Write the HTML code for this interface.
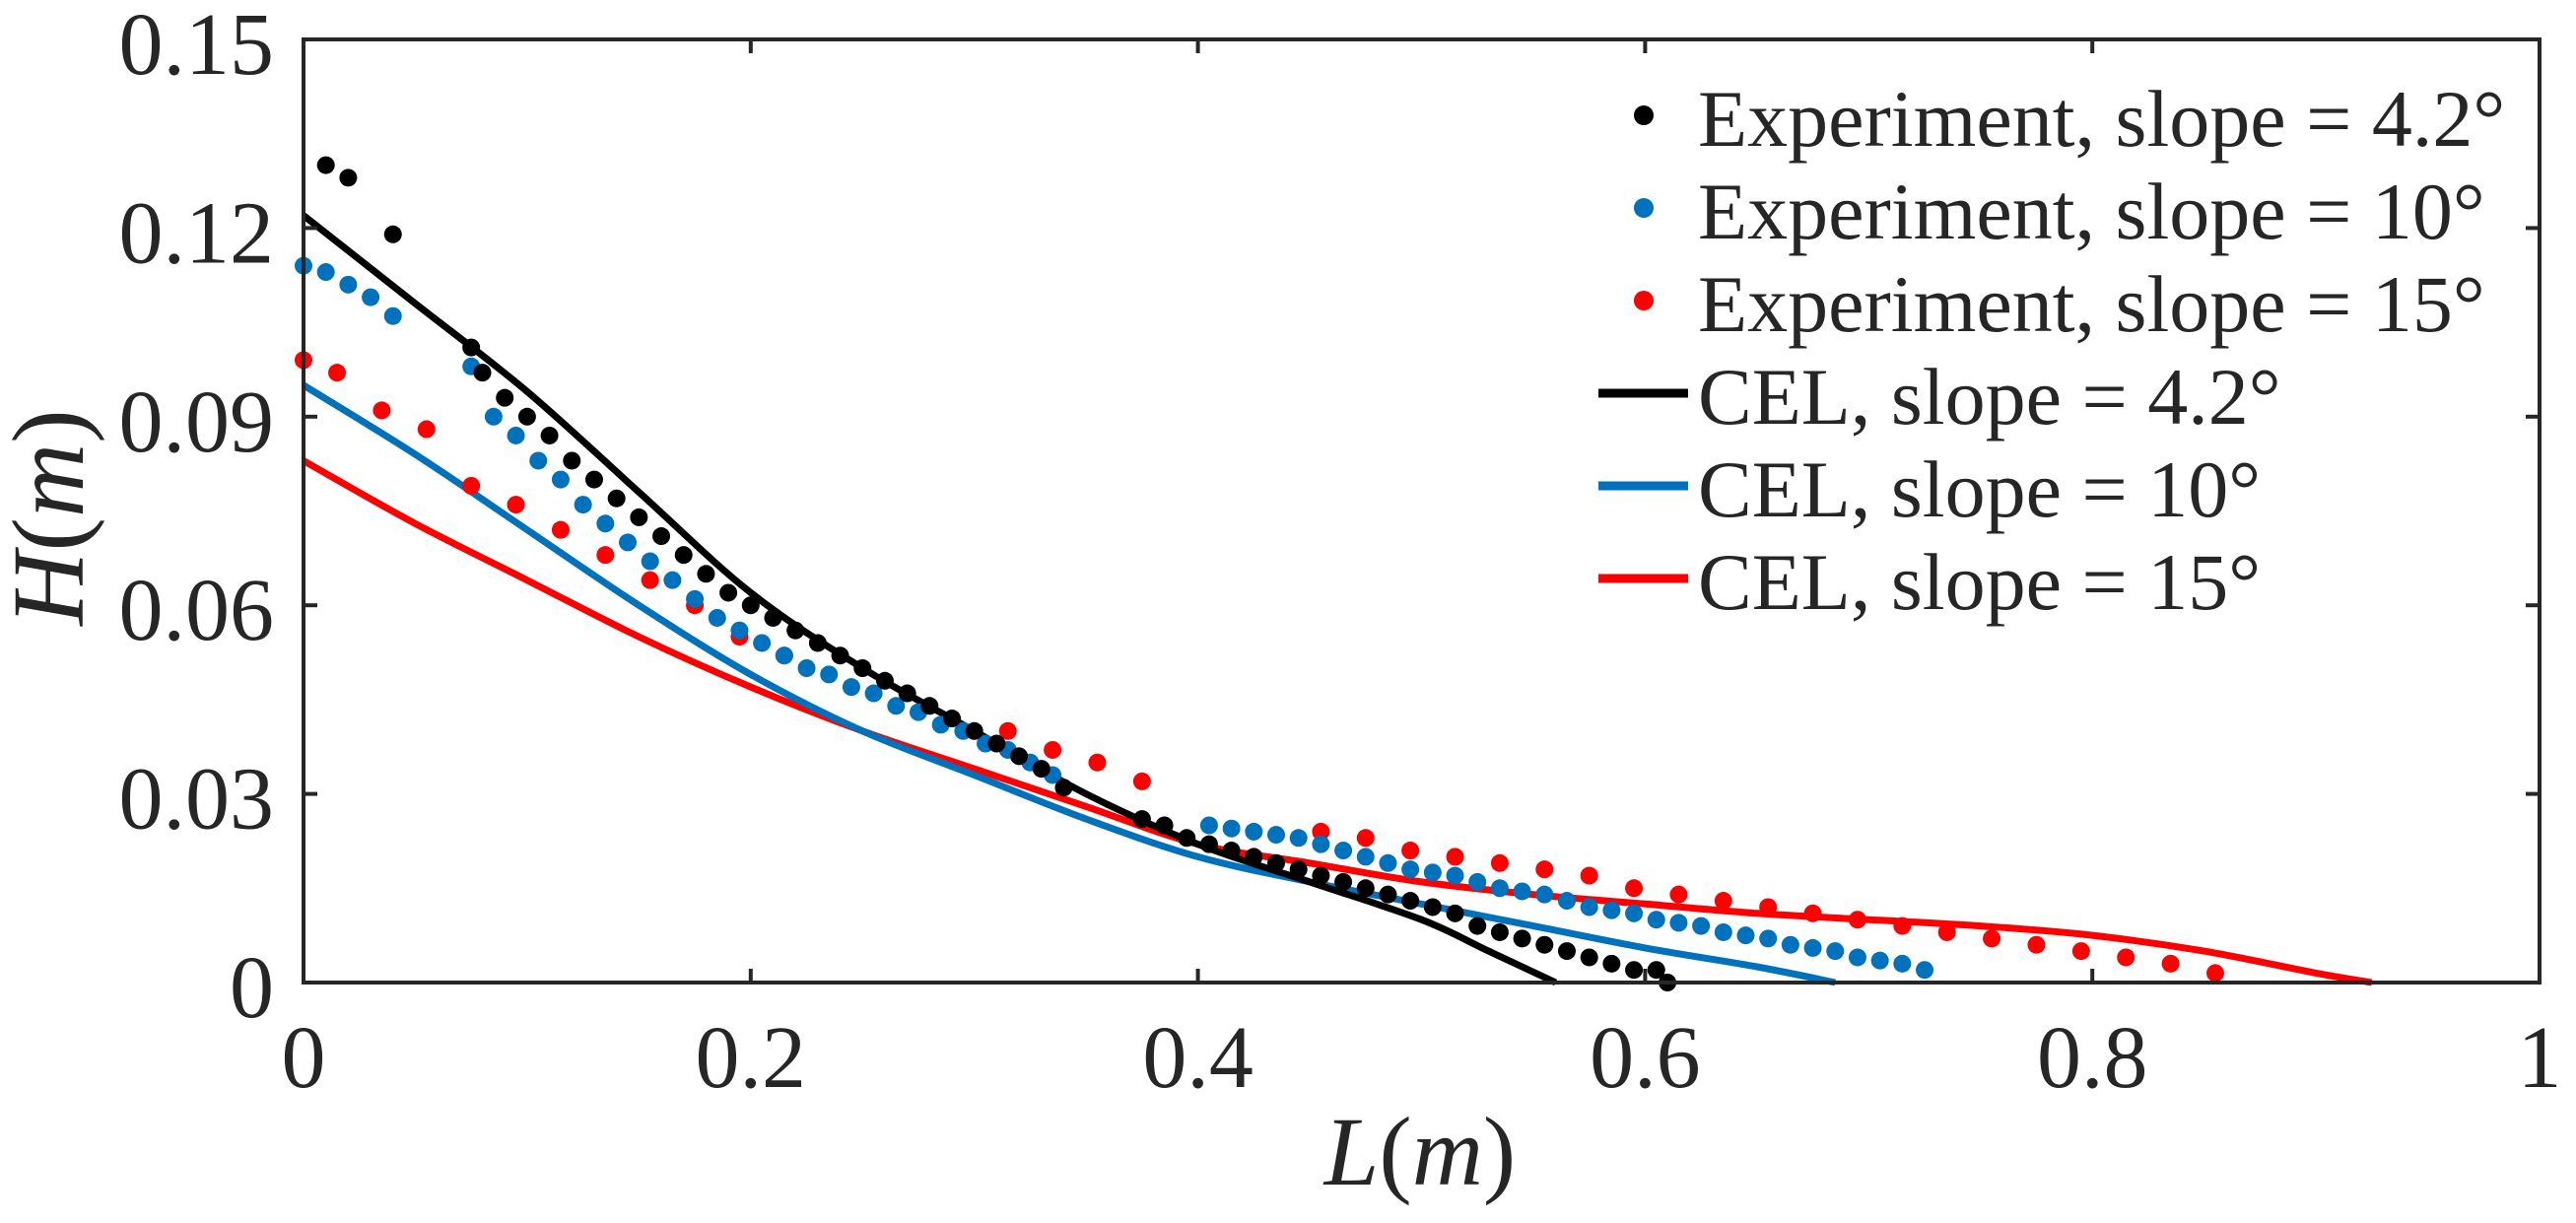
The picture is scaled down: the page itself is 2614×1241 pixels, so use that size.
<!DOCTYPE html>
<html><head><meta charset="utf-8"><style>
html,body{margin:0;padding:0;background:#fff;}
svg{display:block;}
text{font-family:"Liberation Serif",serif;fill:#262626;}
</style></head><body>
<svg id="chart" width="2614" height="1241" viewBox="0 0 2614 1241" xmlns="http://www.w3.org/2000/svg">
<g id="plot"></g>
<g id="axes"></g>
<g id="legend"></g>
</svg>
<script>
const xTicks = [0, 0.2, 0.4, 0.6, 0.8, 1];
const xTickLabels = ["0", "0.2", "0.4", "0.6", "0.8", "1"];
const yTicks = [0, 0.03, 0.06, 0.09, 0.12, 0.15];
const yTickLabels = ["0", "0.03", "0.06", "0.09", "0.12", "0.15"];

const exp42X = [0.01,0.02,0.04,0.075,0.08,0.09,0.10,0.11,0.12,0.13,0.14,0.15,0.16,0.17,0.18,0.19,0.20,0.21,0.22,0.23,0.24,0.25,0.26,0.27,0.28,0.29,0.30,0.31,0.32,0.33,0.34,0.375,0.385,0.395,0.405,0.415,0.425,0.435,0.445,0.455,0.465,0.475,0.485,0.495,0.505,0.515,0.525,0.535,0.545,0.555,0.565,0.575,0.585,0.595,0.605,0.61];
const exp42Y = [0.130,0.128,0.119,0.101,0.097,0.093,0.090,0.087,0.083,0.080,0.077,0.074,0.071,0.068,0.065,0.062,0.060,0.058,0.056,0.054,0.052,0.050,0.048,0.046,0.044,0.042,0.040,0.038,0.036,0.034,0.031,0.026,0.025,0.023,0.022,0.021,0.020,0.019,0.018,0.017,0.016,0.015,0.014,0.013,0.012,0.011,0.009,0.008,0.007,0.006,0.005,0.004,0.003,0.002,0.002,0.000];
const exp10X = [0,0.01,0.02,0.03,0.04,0.075,0.085,0.095,0.105,0.115,0.125,0.135,0.145,0.155,0.165,0.175,0.185,0.195,0.205,0.215,0.225,0.235,0.245,0.255,0.265,0.275,0.285,0.295,0.305,0.315,0.325,0.335,0.405,0.415,0.425,0.435,0.445,0.455,0.465,0.475,0.485,0.495,0.505,0.515,0.525,0.535,0.545,0.555,0.565,0.575,0.585,0.595,0.605,0.615,0.625,0.635,0.645,0.655,0.665,0.675,0.685,0.695,0.705,0.715,0.725];
const exp10Y = [0.114,0.113,0.111,0.109,0.106,0.098,0.090,0.087,0.083,0.080,0.076,0.073,0.070,0.067,0.064,0.061,0.058,0.056,0.054,0.052,0.050,0.049,0.047,0.046,0.044,0.043,0.041,0.040,0.038,0.037,0.035,0.033,0.025,0.0245,0.024,0.0235,0.023,0.022,0.021,0.020,0.019,0.018,0.0175,0.017,0.016,0.015,0.0145,0.014,0.013,0.012,0.0115,0.011,0.010,0.0095,0.009,0.008,0.0075,0.007,0.006,0.0055,0.005,0.004,0.0035,0.003,0.002];
const exp15X = [0,0.015,0.035,0.055,0.075,0.095,0.115,0.135,0.155,0.175,0.195,0.215,0.315,0.335,0.355,0.375,0.455,0.475,0.495,0.515,0.535,0.555,0.575,0.595,0.615,0.635,0.655,0.675,0.695,0.715,0.735,0.755,0.775,0.795,0.815,0.835,0.855];
const exp15Y = [0.099,0.097,0.091,0.088,0.079,0.076,0.072,0.068,0.064,0.060,0.055,0.052,0.040,0.037,0.035,0.032,0.024,0.023,0.021,0.020,0.019,0.018,0.017,0.015,0.014,0.013,0.012,0.011,0.010,0.009,0.008,0.007,0.006,0.005,0.004,0.003,0.0015];

const cel42X = [0,0.05,0.1,0.15,0.2,0.25,0.3,0.35,0.4,0.45,0.5,0.53,0.56];
const cel42Y = [0.122,0.108,0.094,0.078,0.062,0.050,0.040,0.030,0.022,0.016,0.010,0.005,0];
const cel10X = [0,0.05,0.1,0.15,0.2,0.25,0.3,0.35,0.4,0.45,0.5,0.55,0.6,0.65,0.685];
const cel10Y = [0.095,0.084,0.072,0.060,0.049,0.040,0.033,0.026,0.020,0.016,0.0125,0.009,0.0055,0.0025,0];
const cel15X = [0,0.05,0.1,0.15,0.2,0.25,0.3,0.35,0.4,0.45,0.5,0.55,0.6,0.65,0.7,0.75,0.8,0.85,0.9,0.925];
const cel15Y = [0.083,0.073,0.064,0.055,0.047,0.040,0.034,0.028,0.022,0.019,0.016,0.014,0.0125,0.011,0.010,0.009,0.0075,0.005,0.0015,0];

const L = 308, R = 2577, T = 40, B = 997;
function sx(v){ return L + (v - 0) / (1 - 0) * (R - L); }
function sy(v){ return B - (v - 0) / (0.15 - 0) * (B - T); }
const NS = "http://www.w3.org/2000/svg";
function mk(tag, attrs, parent){ const e = document.createElementNS(NS, tag); for (const k in attrs) e.setAttribute(k, attrs[k]); parent.appendChild(e); return e; }

const plot = document.getElementById('plot');
const axes = document.getElementById('axes');
const legend = document.getElementById('legend');

function drawLine(xs, ys, color, name){
  const P = xs.map((x,i)=>[sx(x), sy(ys[i])]);
  let d = 'M' + P[0][0].toFixed(1) + ',' + P[0][1].toFixed(1);
  for (let i = 0; i < P.length - 1; i++) {
    const p0 = P[Math.max(0,i-1)], p1 = P[i], p2 = P[i+1], p3 = P[Math.min(P.length-1,i+2)];
    const c1x = p1[0] + (p2[0]-p0[0])/6, c1y = p1[1] + (p2[1]-p0[1])/6;
    const c2x = p2[0] - (p3[0]-p1[0])/6, c2y = p2[1] - (p3[1]-p1[1])/6;
    d += 'C' + c1x.toFixed(1) + ',' + c1y.toFixed(1) + ' ' + c2x.toFixed(1) + ',' + c2y.toFixed(1) + ' ' + p2[0].toFixed(1) + ',' + p2[1].toFixed(1);
  }
  const p = mk('path', {d:d, fill:'none', stroke:color, 'stroke-width':7, 'stroke-linejoin':'round'}, plot);
  
  
}
function drawDots(xs, ys, color, name){
  const g = mk('g', {}, plot);
  
  
  xs.forEach((x,i)=>{
    const c = mk('circle', {cx:sx(x), cy:sy(ys[i]), r:9, fill:color}, g);
    
    
  });
}
drawLine(cel15X, cel15Y, '#ff0000', 'cel-line-15');
drawLine(cel10X, cel10Y, '#0072bd', 'cel-line-10');
drawLine(cel42X, cel42Y, '#000000', 'cel-line-4-2');
drawDots(exp15X, exp15Y, '#ff0000', 'experiment-dots-15');
drawDots(exp10X, exp10Y, '#0072bd', 'experiment-dots-10');
drawDots(exp42X, exp42Y, '#000000', 'experiment-dots-4-2');

const box = mk('rect', {x:L, y:T, width:R-L, height:B-T, fill:'none', stroke:'#262626', 'stroke-width':4}, axes);


xTicks.forEach((t,i)=>{
  const x = sx(t);
  mk('line', {x1:x, y1:B, x2:x, y2:B-14, stroke:'#262626', 'stroke-width':4}, axes);
  mk('line', {x1:x, y1:T, x2:x, y2:T+14, stroke:'#262626', 'stroke-width':4}, axes);
  const tx = mk('text', {x:x, y:1103, 'font-size':90, 'text-anchor':'middle'}, axes);
  tx.textContent = xTickLabels[i];
  
  
});
yTicks.forEach((t,i)=>{
  const y = sy(t);
  mk('line', {x1:L, y1:y, x2:L+14, y2:y, stroke:'#262626', 'stroke-width':4}, axes);
  mk('line', {x1:R, y1:y, x2:R-14, y2:y, stroke:'#262626', 'stroke-width':4}, axes);
  const tx = mk('text', {x:278, y:y+35, 'font-size':90, 'text-anchor':'end'}, axes);
  tx.textContent = yTickLabels[i];
  
  
});
const xt = mk('text', {x:1441, y:1202, 'font-size':100, 'text-anchor':'middle'}, axes);
xt.innerHTML = '<tspan font-style="italic">L</tspan>(<tspan font-style="italic">m</tspan>)';


const yt = mk('text', {x:0, y:0, 'font-size':104, 'text-anchor':'middle', transform:'translate(84,525) rotate(-90)'}, axes);
yt.innerHTML = '<tspan font-style="italic">H</tspan>(<tspan font-style="italic">m</tspan>)';



const legLabels = ["Experiment, slope = 4.2°","Experiment, slope = 10°","Experiment, slope = 15°","CEL, slope = 4.2°","CEL, slope = 10°","CEL, slope = 15°"];
const legColors = ['#000000','#0072bd','#ff0000','#000000','#0072bd','#ff0000'];
legLabels.forEach((lab,i)=>{
  const base = 148 + i*94;
  const cy = base - 31;
  const g = mk('g', {}, legend);
  
  
  if (i < 3) mk('circle', {cx:1668, cy:cy, r:10, fill:legColors[i]}, g);
  else mk('line', {x1:1622, y1:cy, x2:1713, y2:cy, stroke:legColors[i], 'stroke-width':9}, g);
  const t = mk('text', {x:1723, y:base, 'font-size':82, fill:'#000'}, g);
  t.textContent = lab;
});
</script>
</body></html>
